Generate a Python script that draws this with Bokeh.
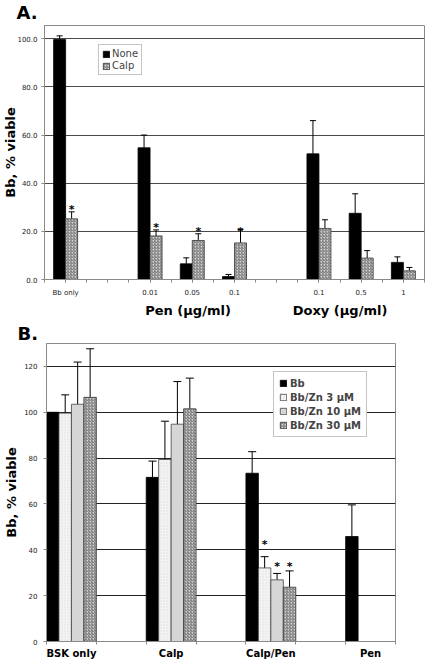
import math
from bokeh.plotting import figure
from bokeh.models import (ColumnDataSource, Whisker, TeeHead, Legend, LegendItem, LinearAxis,
                          FixedTicker, Range1d, PrintfTickFormatter, Title)
from bokeh.embed import file_html
from bokeh.resources import INLINE
from bokeh.core.properties import value

FONT = "DejaVu Sans"

# ---------------- Panel A data ----------------
a_labels = ["Bb only", "0.01", "0.05", "0.1", "0.1", "0.5", "1"]
a_slots = [0, 2, 3, 4, 6, 7, 8]          # category slot (empty slots separate groups)
a_n_slots = 9
a_none = [99.7, 54.7, 6.5, 1.2, 52.2, 27.5, 7.1]
a_none_err = [1.5, 5.3, 2.5, 0.9, 13.8, 8.1, 2.3]
a_calp = [25.2, 18.1, 16.2, 15.2, 21.2, 8.9, 3.6]
a_calp_err = [2.9, 2.5, 2.8, 5.6, 3.6, 3.1, 1.4]
a_star_idx = [0, 1, 2, 3]
a_star_y = [31.4, 24.1, 22.4, 22.4]
a_groups = ["Pen (µg/ml)", "Doxy (µg/ml)"]
a_group_x = [3.4, 7.0]
a_yticks = [0, 20, 40, 60, 80, 100]
a_ymax = 105.5

# ---------------- Panel B data ----------------
b_labels = ["BSK only", "Calp", "Calp/Pen", "Pen"]
b_slots = [0, 2, 4, 6]
b_n_slots = 7
b_series = ["Bb", "Bb/Zn 3 µM", "Bb/Zn 10 µM", "Bb/Zn 30 µM"]
b_bb = [100.0, 71.6, 73.4, 45.8]
b_bb_err = [0.0, 7.1, 9.4, 13.8]
b_zn3 = [99.6, 79.4, 32.1, None]
b_zn3_err = [8.0, 16.7, 4.9, None]
b_zn10 = [103.5, 94.8, 26.9, None]
b_zn10_err = [18.4, 18.6, 2.8, None]
b_zn30 = [106.5, 101.5, 23.7, None]
b_zn30_err = [21.2, 13.4, 7.1, None]
b_star_series = [1, 2, 3]
b_star_cat = [2, 2, 2]
b_star_y = [45.0, 35.3, 35.3]
b_yticks = [0, 20, 40, 60, 80, 100, 120]
b_ymax = 130

HATCH = dict(hatch_pattern="/", hatch_color="#555555", hatch_scale=3.0, hatch_weight=0.8)
GRAY = "#8a8a8a"


def style_axis_common(ax):
    ax.axis_line_color = GRAY
    ax.major_tick_line_color = GRAY
    ax.major_label_text_font = FONT
    ax.major_label_text_color = "#222222"


def style_yaxis(ax, ticks, standoff, title_standoff):
    style_axis_common(ax)
    ax.ticker = FixedTicker(ticks=ticks)
    ax.major_label_text_font_size = "7px"
    ax.major_tick_out = 3
    ax.major_tick_in = 0
    ax.minor_tick_out = 0
    ax.minor_tick_in = 0
    ax.minor_tick_line_color = None
    ax.major_label_standoff = standoff
    ax.axis_label = "Bb, % viable"
    ax.axis_label_text_font = FONT
    ax.axis_label_text_font_style = "bold"
    ax.axis_label_text_font_size = "13px"
    ax.axis_label_text_color = "black"
    ax.axis_label_standoff = title_standoff


# ================= Panel A =================
A_W, A_H = 432, 320
A_L, A_R, A_T, A_B = 44, 8, 25, 41
pA = figure(width=A_W, height=A_H, x_range=Range1d(0, a_n_slots), y_range=Range1d(0, a_ymax),
            output_backend="svg", toolbar_location=None,
            min_border_left=A_L, min_border_right=A_R, min_border_top=A_T, min_border_bottom=A_B)
a_fw = A_W - A_L - A_R
a_pxx = a_fw / a_n_slots

bw = 12.0 / a_pxx
xc = [s + 0.5 for s in a_slots]
x_none = [x - bw / 2 for x in xc]
x_calp = [x + bw / 2 for x in xc]

r_none = pA.vbar(x=x_none, top=a_none, bottom=0, width=bw, fill_color="black", line_color="black", line_width=0.8)
r_calp = pA.vbar(x=x_calp, top=a_calp, bottom=0, width=bw, fill_color="#d2d2d2", line_color="#333333",
                 line_width=0.8, **HATCH)

for xs, vals, errs in ((x_none, a_none, a_none_err), (x_calp, a_calp, a_calp_err)):
    src = ColumnDataSource(dict(x=xs, lo=vals, hi=[v + e for v, e in zip(vals, errs)]))
    pA.add_layout(Whisker(base="x", lower="lo", upper="hi", source=src, line_color="black", line_width=1,
                          upper_head=TeeHead(size=6, line_color="black", line_width=1), lower_head=None))

pA.text(x=[x_calp[i] for i in a_star_idx], y=a_star_y, text=["*"] * len(a_star_idx),
        text_align="center", text_baseline="alphabetic", y_offset=6,
        text_font=value(FONT), text_font_size="11px", text_font_style="bold", text_color="black")

pA.xgrid.visible = False
pA.ygrid.grid_line_color = "#4a4a4a"
pA.ygrid.grid_line_width = 1
pA.ygrid.ticker = FixedTicker(ticks=a_yticks)
pA.outline_line_color = GRAY

style_yaxis(pA.yaxis[0], a_yticks, 4, -4)
pA.yaxis.formatter = PrintfTickFormatter(format="%.1f")

minor_a = [i * 0.5 for i in range(2 * a_n_slots + 1)]
style_axis_common(pA.xaxis[0])
pA.xaxis.ticker = FixedTicker(ticks=xc, minor_ticks=minor_a)
pA.xaxis.major_label_overrides = {x: lab for x, lab in zip(xc, a_labels)}
pA.xaxis.major_label_text_font_size = "7px"
pA.xaxis.minor_tick_line_color = GRAY
pA.xaxis.major_tick_out = 3
pA.xaxis.major_tick_in = 0
pA.xaxis.minor_tick_out = 3
pA.xaxis.minor_tick_in = 0
pA.xaxis.major_label_standoff = 6

grp_axis = LinearAxis(ticker=FixedTicker(ticks=a_group_x, minor_ticks=[]),
                      major_label_overrides={x: g for x, g in zip(a_group_x, a_groups)},
                      axis_line_color=None, major_tick_line_color=None, minor_tick_line_color=None,
                      major_tick_out=0, major_tick_in=0, minor_tick_out=0, minor_tick_in=0,
                      major_label_standoff=3,
                      major_label_text_font=FONT, major_label_text_font_style="bold",
                      major_label_text_font_size="13px", major_label_text_color="black")
pA.add_layout(grp_axis, "below")

pA.add_layout(Title(text="A.", align="left", offset=-28, standoff=2, vertical_align="top",
                    text_font=FONT, text_font_style="bold", text_font_size="18px",
                    text_color="black"), "above")

legA = Legend(items=[LegendItem(label="None", renderers=[r_none]),
                     LegendItem(label="Calp", renderers=[r_calp])],
              location=(54, 204), label_text_font=FONT, label_text_font_size="10px",
              glyph_width=8, glyph_height=8, label_height=10, spacing=1, padding=3, margin=0,
              label_standoff=2, border_line_color=GRAY, background_fill_alpha=1)
pA.add_layout(legA)

# ================= Panel B =================
B_W, B_H = 432, 342
B_L, B_R, B_T, B_B = 46, 37, 23, 21
pB = figure(width=B_W, height=B_H, x_range=Range1d(0, b_n_slots), y_range=Range1d(0, b_ymax),
            output_backend="svg", toolbar_location=None,
            min_border_left=B_L, min_border_right=B_R, min_border_top=B_T, min_border_bottom=B_B)

bbw = 0.25
b_vals = [b_bb, b_zn3, b_zn10, b_zn30]
b_errs = [b_bb_err, b_zn3_err, b_zn10_err, b_zn30_err]
b_styles = [
    dict(fill_color="black", line_color="black"),
    dict(fill_color="#f3f3f3", line_color="#444444", hatch_pattern=".", hatch_color="#dddddd",
         hatch_scale=3, hatch_weight=0.6),
    dict(fill_color="#d6d6d6", line_color="#444444"),
    dict(fill_color="#d0d0d0", line_color="#333333", **HATCH),
]
b_renderers = []
for k, (vals, errs, sty) in enumerate(zip(b_vals, b_errs, b_styles)):
    xs, tops, los, his, wx = [], [], [], [], []
    for s, v, e in zip(b_slots, vals, errs):
        if v is None:
            continue
        x = s + (k + 0.5) * bbw
        xs.append(x)
        tops.append(v)
        if e:
            wx.append(x)
            los.append(v)
            his.append(v + e)
    r = pB.vbar(x=xs, top=tops, bottom=0, width=bbw, line_width=0.8, **sty)
    b_renderers.append(r)
    src = ColumnDataSource(dict(x=wx, lo=los, hi=his))
    pB.add_layout(Whisker(base="x", lower="lo", upper="hi", source=src, line_color="black", line_width=1,
                          upper_head=TeeHead(size=8, line_color="black", line_width=1), lower_head=None))

pB.text(x=[b_slots[c] + (k + 0.5) * bbw for k, c in zip(b_star_series, b_star_cat)], y=b_star_y,
        text=["*"] * len(b_star_y), text_align="center", text_baseline="alphabetic", y_offset=6,
        text_font=value(FONT), text_font_size="11px", text_font_style="bold", text_color="black")

pB.xgrid.visible = False
pB.ygrid.grid_line_color = "#222222"
pB.ygrid.grid_line_width = 1
pB.ygrid.ticker = FixedTicker(ticks=b_yticks)
pB.outline_line_color = GRAY

style_yaxis(pB.yaxis[0], b_yticks, 6, 2)

bxc = [s + 0.5 for s in b_slots]
style_axis_common(pB.xaxis[0])
pB.xaxis.ticker = FixedTicker(ticks=bxc, minor_ticks=list(range(b_n_slots + 1)))
pB.xaxis.major_label_overrides = {x: lab for x, lab in zip(bxc, b_labels)}
pB.xaxis.major_label_text_font_style = "bold"
pB.xaxis.major_label_text_font_size = "10px"
pB.xaxis.major_label_text_color = "black"
pB.xaxis.major_tick_line_color = None
pB.xaxis.major_tick_out = 0
pB.xaxis.minor_tick_line_color = GRAY
pB.xaxis.minor_tick_out = 3
pB.xaxis.minor_tick_in = 0
pB.xaxis.major_label_standoff = 3

pB.add_layout(Title(text="B.", align="left", offset=-29, standoff=0, text_font=FONT,
                    text_font_style="bold", text_font_size="18px", text_color="black"), "above")

legB = Legend(items=[LegendItem(label=n, renderers=[r]) for n, r in zip(b_series, b_renderers)],
              location=(227, 204), label_text_font=FONT, label_text_font_size="10px",
              label_text_font_style="bold",
              glyph_width=8, glyph_height=8, label_height=12, spacing=2, padding=5, margin=0,
              label_standoff=3, border_line_color=GRAY, background_fill_alpha=1)
pB.add_layout(legB)

open("out.html", "w").write(file_html([pA, pB], INLINE))
